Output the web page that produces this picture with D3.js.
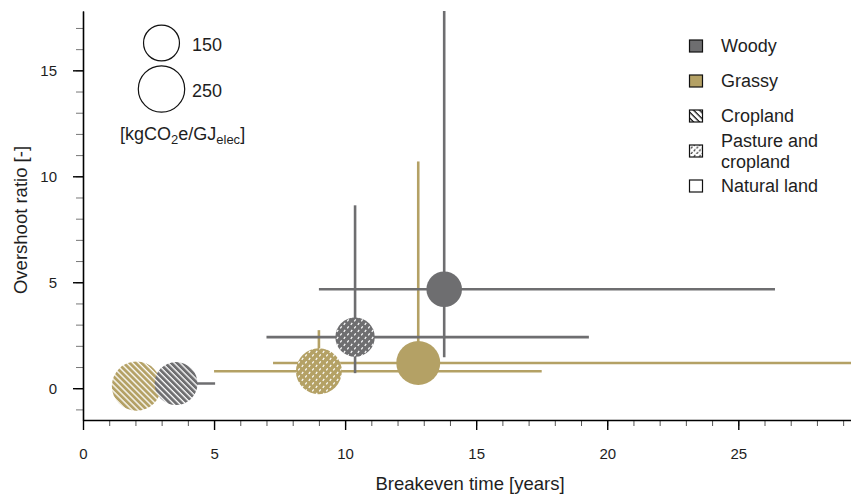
<!doctype html>
<html>
<head>
<meta charset="utf-8">
<title>Breakeven time vs overshoot ratio</title>
<script src="https://d3js.org/d3.v7.min.js"></script>
<style>
  body { margin: 0; background: #fff; }
  svg { font-family: "Liberation Sans", Arial, sans-serif; }
</style>
</head>
<body>
<script>
// values
var feedstock   = ["Grassy", "Grassy", "Grassy", "Woody", "Woody", "Woody"];
var landUse     = ["Cropland", "Pasture and cropland", "Natural land", "Cropland", "Pasture and cropland", "Natural land"];
var breakeven   = [2.04, 9.0, 12.79, 3.55, 10.38, 13.78];
var breakevenLo = [1.6, 5.0, 7.25, 2.6, 7.0, 9.0];
var breakevenHi = [2.5, 17.5, 31, 5.04, 19.3, 26.4];
var overshoot   = [0.1, 0.8, 1.19, 0.22, 2.41, 4.67];
var overshootLo = [0.0, 0.4, 0.6, 0.05, 0.71, 1.46];
var overshootHi = [0.3, 2.74, 10.7, 0.45, 8.63, 19];
var emission    = [282, 245, 224, 214, 180, 147];

var sizeLegend = [150, 250];
var legendItems = ["Woody", "Grassy", "Cropland", "Pasture and\ncropland", "Natural land"];
var xTicks = [0, 5, 10, 15, 20, 25];
var yTicks = [0, 5, 10, 15];

var width = 851, height = 496;
var colors = { "Woody": "#6e6e70", "Grassy": "#b4a165" };
var ink = "#1e1e1e";

var x = d3.scaleLinear().domain([0, 29.3]).range([83, 851]);
var y = d3.scaleLinear().domain([-1.5, 17.8]).range([420, 11]);
var r = d3.scaleSqrt().domain([0, 250]).range([0, 23.2]);

var svg = d3.select("body").append("svg")
    .attr("width", width)
    .attr("height", height);

var defs = svg.append("defs");

defs.append("clipPath").attr("id", "plot")
  .append("rect")
    .attr("x", 83).attr("y", 11)
    .attr("width", 851 - 83).attr("height", 420 - 11);

// striped fill for cropland
function stripes(id, bg, fg, w) {
    var p = defs.append("pattern")
        .attr("id", id)
        .attr("patternUnits", "userSpaceOnUse")
        .attr("width", 4.2).attr("height", 4.2)
        .attr("patternTransform", "rotate(-45)");
    p.append("rect").attr("width", 4.2).attr("height", 4.2).attr("fill", bg);
    p.append("line").attr("x1", 1).attr("x2", 1).attr("y1", 0).attr("y2", 4.2)
        .attr("stroke", fg).attr("stroke-width", w);
}
// dotted fill for pasture and cropland
function dots(id, bg, fg, s) {
    var p = defs.append("pattern")
        .attr("id", id)
        .attr("patternUnits", "userSpaceOnUse")
        .attr("width", s).attr("height", s);
    p.append("rect").attr("width", s).attr("height", s).attr("fill", bg);
    p.append("line").attr("x1", 0.8).attr("y1", 2.9).attr("x2", 2.2).attr("y2", 0.9)
        .attr("stroke", fg).attr("stroke-width", 1.2);
    p.append("line").attr("x1", s / 2 + 0.8).attr("y1", s / 2 + 2.9).attr("x2", s / 2 + 2.2).attr("y2", s / 2 + 0.9)
        .attr("stroke", fg).attr("stroke-width", 1.2);
}
stripes("stripeWoody", colors.Woody, "#fff", 1.3);
stripes("stripeGrassy", colors.Grassy, "#fff", 1.3);
stripes("stripeKey", "#fff", "#222", 1.4);
dots("dotWoody", colors.Woody, "#fff", 7);
dots("dotGrassy", colors.Grassy, "#fff", 7);
dots("dotKey", "#fff", "#333", 5.5);

function fillFor(i) {
    var f = feedstock[i], l = landUse[i];
    if (l == "Cropland") return "url(#stripe" + f + ")";
    if (l == "Pasture and cropland") return "url(#dot" + f + ")";
    return colors[f];
}

// axes
var xAxis = svg.append("g").attr("transform", "translate(0,420)");
xAxis.call(d3.axisBottom(x).tickValues(d3.range(0, 30, 1)).tickSize(6).tickSizeOuter(0).tickFormat(""));
xAxis.selectAll(".tick line").attr("stroke", "#555");
var xMaj = svg.append("g").attr("transform", "translate(0,420)");
xMaj.call(d3.axisBottom(x).tickValues(xTicks).tickSize(10).tickSizeOuter(0).tickPadding(18));
xMaj.select(".domain").attr("stroke-width", 1.6);
xMaj.selectAll(".tick line").attr("stroke-width", 1.4);
xMaj.selectAll("text").attr("font-size", 15).attr("fill", ink)
    .attr("font-family", "'Liberation Sans', Arial, sans-serif");

var yAxis = svg.append("g").attr("transform", "translate(83,0)");
yAxis.call(d3.axisLeft(y).tickValues(d3.range(-1, 18, 1)).tickSize(7).tickSizeOuter(0).tickFormat(""));
yAxis.selectAll(".tick line").attr("stroke", "#777");
var yMaj = svg.append("g").attr("transform", "translate(83,0)");
yMaj.call(d3.axisLeft(y).tickValues(yTicks).tickSize(10).tickSizeOuter(0).tickPadding(16));
yMaj.select(".domain").attr("stroke-width", 1.6);
yMaj.selectAll(".tick line").attr("stroke-width", 1.4);
yMaj.selectAll("text").attr("font-size", 15).attr("fill", ink)
    .attr("font-family", "'Liberation Sans', Arial, sans-serif");

svg.append("text")
    .attr("x", 470).attr("y", 490)
    .attr("text-anchor", "middle")
    .attr("font-size", 18.5).attr("fill", ink)
    .text("Breakeven time [years]");

svg.append("text")
    .attr("transform", "translate(27,220) rotate(-90)")
    .attr("text-anchor", "middle")
    .attr("font-size", 18.5).attr("fill", ink)
    .text("Overshoot ratio [-]");

// error bars, then bubbles
var idx = d3.range(breakeven.length);
var plot = svg.append("g").attr("clip-path", "url(#plot)");

idx.forEach(function(i) {
    plot.append("line")
        .attr("x1", x(breakevenLo[i])).attr("x2", x(breakevenHi[i]))
        .attr("y1", y(overshoot[i])).attr("y2", y(overshoot[i]))
        .attr("stroke", colors[feedstock[i]]).attr("stroke-width", 2.6);
    plot.append("line")
        .attr("x1", x(breakeven[i])).attr("x2", x(breakeven[i]))
        .attr("y1", y(overshootLo[i])).attr("y2", y(overshootHi[i]))
        .attr("stroke", colors[feedstock[i]]).attr("stroke-width", 2.6);
});

plot.selectAll(".bubble")
    .data(idx)
    .enter()
    .append("circle")
    .attr("class", "bubble")
    .attr("cx", function(i) { return x(breakeven[i]); })
    .attr("cy", function(i) { return y(overshoot[i]); })
    .attr("r", function(i) { return r(emission[i]); })
    .attr("fill", function(i) { return fillFor(i); });

// size key
var sizeY = [43, 89];
sizeLegend.forEach(function(v, k) {
    svg.append("circle")
        .attr("cx", 161.5).attr("cy", sizeY[k])
        .attr("r", r(v))
        .attr("fill", "#fff").attr("stroke", "#111").attr("stroke-width", 1.2);
    svg.append("text")
        .attr("x", 192).attr("y", sizeY[k] + 2)
        .attr("dy", "0.35em")
        .attr("font-size", 18).attr("fill", ink)
        .text(v);
});
var unit = svg.append("text")
    .attr("x", 120).attr("y", 140)
    .attr("font-size", 18).attr("fill", ink);
unit.append("tspan").text("[kgCO");
unit.append("tspan").attr("font-size", 13).attr("dy", 4).text("2");
unit.append("tspan").attr("dy", -4).text("e/GJ");
unit.append("tspan").attr("font-size", 13).attr("dy", 4).text("elec");
unit.append("tspan").attr("dy", -4).text("]");

// land use / feedstock key
var keyFill = ["#6e6e70", "#b4a165", "url(#stripeKey)", "url(#dotKey)", "#fff"];
var keyY = [46, 81, 116, 151, 186];
legendItems.forEach(function(name, k) {
    svg.append("rect")
        .attr("x", 689.5).attr("y", keyY[k] - 6)
        .attr("width", 13).attr("height", 12)
        .attr("fill", keyFill[k]).attr("stroke", "#111").attr("stroke-width", 1.2);
    var lines = name.split("\n");
    lines.forEach(function(t, j) {
        svg.append("text")
            .attr("x", 721)
            .attr("y", keyY[k] + (j - (lines.length - 1) / 2) * 21)
            .attr("dy", "0.35em")
            .attr("font-size", 18).attr("fill", ink)
            .text(t);
    });
});
</script>
</body>
</html>
